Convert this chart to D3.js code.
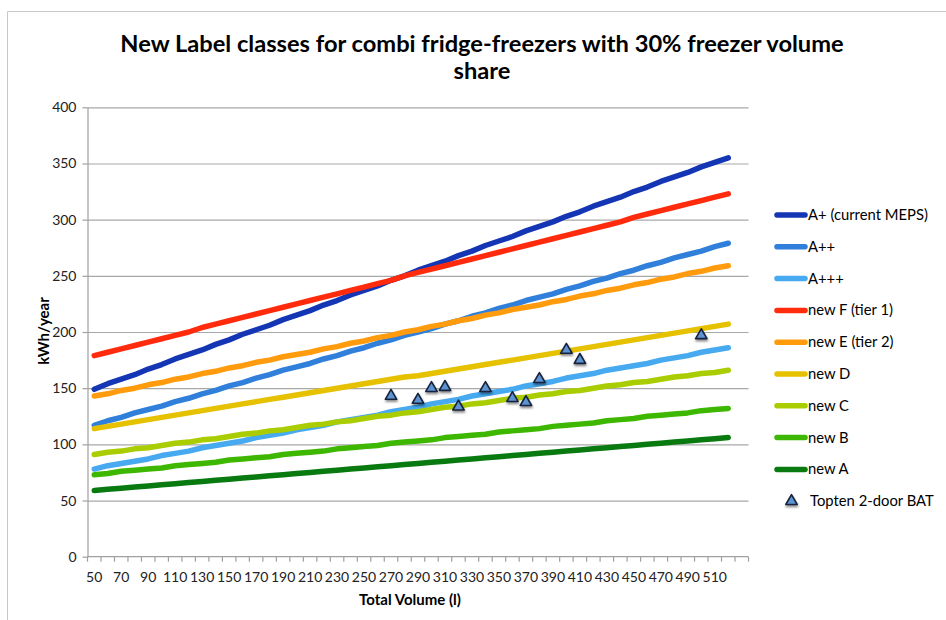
<!DOCTYPE html>
<html><head><meta charset="utf-8">
<script src="https://cdn.jsdelivr.net/npm/d3@7"></script>
<style>body{margin:0;background:#fff}svg{display:block}</style>
</head><body>
<svg id="chart" width="946" height="620"></svg>
<script>
// ---------------- data ----------------
const volumes = [50,60,70,80,90,100,110,120,130,140,150,160,170,180,190,200,210,220,230,240,250,260,270,280,290,300,310,320,330,340,350,360,370,380,390,400,410,420,430,440,450,460,470,480,490,500,510,520,530];
const xTickLabels = [50,70,90,110,130,150,170,190,210,230,250,270,290,310,330,350,370,390,410,430,450,470,490,510];
const yTickValues = [0,50,100,150,200,250,300,350,400];

const seriesNames = ["A+ (current MEPS)","A++","A+++","new F (tier 1)","new E (tier 2)","new D","new C","new B","new A"];
const seriesColors = ["#1436b4","#2f7fdb","#47a9ef","#ff2b0c","#ff9b0d","#e6c100","#a9cd00","#3db700","#087a10"];

const aPlus   = [149,154,158,162,167,171,176,180,184,189,193,198,202,206,211,215,219,224,228,233,237,241,246,250,255,259,263,268,272,277,281,285,290,294,298,303,307,312,316,320,325,329,334,338,342,347,351,355];
const aPP     = [117,121,124,128,131,134,138,141,145,148,152,155,159,162,166,169,172,176,179,183,186,190,193,197,200,203,207,210,214,217,221,224,228,231,234,238,241,245,248,252,255,259,262,266,269,272,276,279];
const aPPP    = [78,81,83,85,87,90,92,94,97,99,101,103,106,108,110,113,115,117,120,122,124,126,129,131,133,136,138,140,143,145,147,149,152,154,156,159,161,163,166,168,170,172,175,177,179,182,184,186];
const newF    = [179,182,185,188,191,194,197,200,204,207,210,213,216,219,222,225,228,231,234,237,240,243,246,250,253,256,259,262,265,268,271,274,277,280,283,286,289,292,295,298,302,305,308,311,314,317,320,323];
const newE    = [143,145,148,150,153,155,158,160,163,165,168,170,173,175,178,180,182,185,187,190,192,195,197,200,202,205,207,210,212,215,217,220,222,224,227,229,232,234,237,239,242,244,247,249,252,254,257,259];
const newD    = [114,116,118,120,122,124,126,128,130,132,134,136,138,140,142,144,146,148,150,152,154,156,158,160,161,163,165,167,169,171,173,175,177,179,181,183,185,187,189,191,193,195,197,199,201,203,205,207];
const newC    = [91,93,94,96,97,99,101,102,104,105,107,109,110,112,113,115,117,118,120,121,123,125,126,128,129,131,133,134,136,137,139,141,142,144,145,147,148,150,152,153,155,156,158,160,161,163,164,166];
const newB    = [73,74,76,77,78,79,81,82,83,84,86,87,88,89,91,92,93,94,96,97,98,99,101,102,103,104,106,107,108,109,111,112,113,114,116,117,118,119,121,122,123,125,126,127,128,130,131,132];
const newA    = [59,60,61,62,63,64,65,66,67,68,69,70,71,72,73,74,75,76,77,78,79,80,81,82,83,84,85,86,87,88,89,90,91,92,93,94,95,96,97,98,99,100,101,102,103,104,105,106];

const toptenName = "Topten 2-door BAT";
const toptenVolume = [270,290,300,310,320,340,360,370,380,400,410,500];
const toptenValue  = [143,139.5,150,151,133.5,150,141,137.5,158,184,175,197];

const seriesValues = [aPlus,aPP,aPPP,newF,newE,newD,newC,newB,newA];

// ---------------- layout ----------------
const FONT = "Lato, 'Open Sans', sans-serif";
const svg = d3.select("#chart");
const plot = {left: 87.5, right: 748.5, top: 107.3, bottom: 556.7};

const x = d3.scaleBand().domain(volumes).range([plot.left, plot.right]).padding(0);
const y = d3.scaleLinear().domain([0,400]).range([plot.bottom, plot.top]);

// outer frame
svg.append("path").attr("d","M7.5,620 L7.5,11.5 L946,11.5").attr("fill","none").attr("stroke","#c8c8c8").attr("stroke-width",1);

const defs = svg.append("defs");
const f = defs.append("filter").attr("id","shadow").attr("x","-50%").attr("y","-50%").attr("width","200%").attr("height","200%");
f.append("feDropShadow").attr("dx",0.5).attr("dy",2).attr("stdDeviation",1.2).attr("flood-color","#000").attr("flood-opacity",0.45);

// title
const title = svg.append("g").attr("font-family",FONT).attr("font-weight","bold").attr("fill","#000").attr("text-anchor","middle");
const t1 = title.append("text").attr("x",482).attr("y",52).attr("font-size",20).text("New Label classes for combi fridge-freezers with 30% freezer volume");
const w1 = t1.node().getComputedTextLength();
const fs = 20*724/w1;
t1.attr("font-size",fs);
title.append("text").attr("x",482).attr("y",79).attr("font-size",fs).text("share");

// gridlines
svg.append("g").attr("transform",`translate(${plot.left},0)`)
  .call(d3.axisLeft(y).tickValues(yTickValues.slice(1)).tickSize(-(plot.right-plot.left)).tickFormat(""))
  .call(g=>g.select(".domain").remove())
  .call(g=>g.selectAll("line").attr("stroke","#a8a8a8").attr("stroke-width",1.2));

// y axis
svg.append("g").attr("transform",`translate(${plot.left},0)`)
  .call(d3.axisLeft(y).tickValues(yTickValues).tickSize(5).tickPadding(6).tickSizeOuter(0))
  .call(g=>g.select(".domain").attr("stroke","#a0a0a0").attr("stroke-width",1.2))
  .call(g=>g.selectAll(".tick line").attr("stroke","#a0a0a0").attr("stroke-width",1.2))
  .call(g=>g.selectAll("text").attr("font-family",FONT).attr("font-size",14).attr("fill","#222"));

// x axis: baseline, boundary ticks, labels
const xg = svg.append("g");
xg.append("line").attr("x1",plot.left).attr("x2",plot.right).attr("y1",y(0)).attr("y2",y(0)).attr("stroke","#a0a0a0").attr("stroke-width",1.2);
const bounds = volumes.map(v=>x(v)).concat([x(volumes[volumes.length-1])+x.bandwidth()]);
xg.selectAll("line.tk").data(bounds).join("line").attr("class","tk")
  .attr("x1",d=>d).attr("x2",d=>d).attr("y1",y(0)).attr("y2",y(0)+5).attr("stroke","#a0a0a0").attr("stroke-width",1.2);
xg.selectAll("text").data(xTickLabels).join("text")
  .attr("x",d=>x(d)+x.bandwidth()/2).attr("y",582).attr("text-anchor","middle")
  .attr("font-family",FONT).attr("font-size",14).attr("fill","#222").text(d=>d);

// axis titles
svg.append("text").attr("x",410).attr("y",605).attr("text-anchor","middle").attr("font-family",FONT)
  .attr("font-weight","bold").attr("font-size",15).text("Total Volume (l)");
svg.append("text").attr("transform","translate(49,331) rotate(-90)").attr("text-anchor","middle").attr("font-family",FONT)
  .attr("font-weight","bold").attr("font-size",15).text("kWh/year");

// lines
const line = d3.line().x((d,i)=>x(volumes[i])+x.bandwidth()/2).y(d=>y(d));
svg.append("g").selectAll("path").data(seriesValues).join("path")
  .attr("d",d=>line(d)).attr("fill","none")
  .attr("stroke",(d,i)=>seriesColors[i]).attr("stroke-width",5.5)
  .attr("stroke-linecap","round").attr("stroke-linejoin","round");

// topten markers
const tri = d3.symbol().type(d3.symbolTriangle).size(56);
svg.append("g").attr("filter","url(#shadow)").selectAll("path").data(toptenVolume).join("path")
  .attr("transform",(d,i)=>`translate(${x(d)+x.bandwidth()/2},${y(toptenValue[i])})`)
  .attr("d",tri).attr("fill","#5d93d3").attr("stroke","#18243a").attr("stroke-width",1.6).attr("stroke-linejoin","round");

// legend
const lg = svg.append("g").attr("font-family",FONT).attr("font-size",14.8).attr("fill","#000");
const rowY = i => 215 + 31.8*i;
seriesNames.forEach((n,i)=>{
  lg.append("line").attr("x1",777).attr("x2",805).attr("y1",rowY(i)).attr("y2",rowY(i))
    .attr("stroke",seriesColors[i]).attr("stroke-width",5.5).attr("stroke-linecap","round");
  lg.append("text").attr("x",808).attr("y",rowY(i)+5).text(n);
});
lg.append("path").attr("transform",`translate(791.5,${rowY(9)})`).attr("d",tri)
  .attr("fill","#5d93d3").attr("stroke","#18243a").attr("stroke-width",1.6).attr("stroke-linejoin","round").attr("filter","url(#shadow)");
lg.append("text").attr("x",810).attr("y",rowY(9)+5).text(toptenName);
</script>
</body></html>
